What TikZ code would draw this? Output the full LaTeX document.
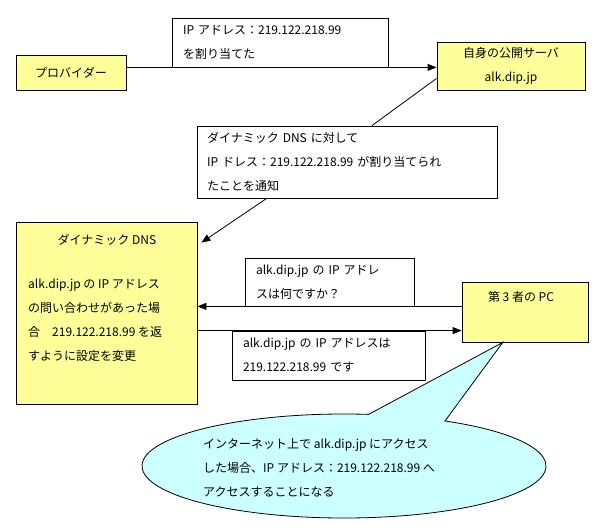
\documentclass[tikz,border=0pt]{standalone}
\usepackage{fontspec}
\setmainfont{Noto Sans CJK JP}
\usepackage{xcolor}
\usetikzlibrary{arrows.meta,calc}

\definecolor{boxyellow}{HTML}{FFFF99}
\definecolor{bubblecyan}{HTML}{CCFFFF}

\begin{document}
\begin{tikzpicture}[x=1pt,y=-1pt,font=\fontsize{12}{24}\selectfont]
  \tikzset{host/.style = {shape=rectangle,draw,fill=boxyellow,line width=0.8pt,inner sep=0pt}}
  \tikzset{memo/.style = {shape=rectangle,draw,fill=white,line width=0.8pt,align=left,inner xsep=11pt,inner ysep=0pt}}
  \tikzset{msg/.style = {->,-{Triangle[length=9pt,width=7pt]},line width=0.8pt}}

  \useasboundingbox (0,0) rectangle (595,527);

	\node[host,minimum width=110,minimum height=35] (prov) at (71,72.5) {プロバイダー};
	\node[memo,text width=194,minimum height=49] (lab1) at (280,42.5) {IP アドレス：219.122.218.99\\を割り当てた};
	\node[host,minimum width=148,minimum height=48,align=center] (srv) at (511,66) {自身の公開サーバ\\alk.dip.jp};

	\node[memo,inner xsep=10pt,text width=280,minimum height=72] (note) at (347,162) {ダイナミック DNS に対して\\IP ドレス：219.122.218.99 が割り当てられ\\たことを通知};

	\node[host,minimum width=181,minimum height=182] (dns) at (106.5,313) {};
		\node (dnstitle) at (107,240) {ダイナミック DNS};
		\node[align=left,anchor=west,inner sep=0pt] (dnsbody) at (28,320.5) {alk.dip.jp の IP アドレス\\の問い合わせがあった場\\合　219.122.218.99 を返\\すように設定を変更};

	\node[memo,text width=147,minimum height=48] (ask) at (329.5,282) {alk.dip.jp の IP アドレ\\スは何ですか？};
	\node[memo,text width=171,minimum height=49] (ans) at (328.5,355.5) {alk.dip.jp の IP アドレスは\\219.122.218.99 です};

	\node[host,minimum width=126,minimum height=60] (pc) at (525,312) {};
		\node (pctitle) at (521,297) {第 3 者の PC};

    % speech bubble from the PC
    \coordinate (bub) at (344,466);
    \draw[fill=bubblecyan,line width=0.8pt] ($(bub)+(-83:202 and 52)$) -- ($(pc.south west)!0.325!(pc.south east)$) -- ($(bub)+(-60:202 and 52)$) arc[start angle=-60,end angle=277,x radius=202,y radius=52] -- cycle;
    \node[align=left,anchor=west,inner sep=0pt] (bubtext) at (203,468) {インターネット上で alk.dip.jp にアクセス\\した場合、IP アドレス：219.122.218.99 へ\\アクセスすることになる};

    \foreach \from/\to in {prov.east |- lab1.south/srv.west |- lab1.south, pc.west |- ask.south/dns.east |- ask.south, dns.east |- ans.north/pc.west |- ans.north}
    \draw[msg] (\from) -- (\to);

    \draw[line width=0.8pt] ($(srv.south west)+(0,-12)$) -- ($(note.north west)!0.583!(note.north east)$);
    \draw[msg] ($(note.south west)!0.233!(note.south east)$) -- ($(dns.north east)+(4,21)$);

\end{tikzpicture}
\end{document}
